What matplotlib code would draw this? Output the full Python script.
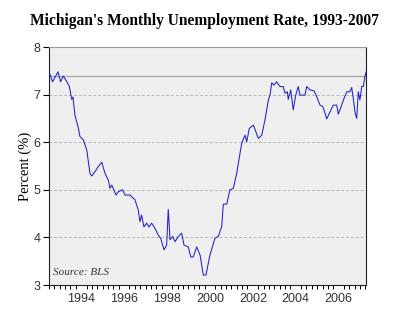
import matplotlib
matplotlib.use("Agg")
import matplotlib.pyplot as plt
import numpy as np

# month index from Jan 1993 (0) and unemployment rate (%)
months = [0, 2, 5, 6.5, 8, 10, 11.4, 12.7, 13.4, 14.5, 16.4, 17.3, 19.2, 21.1, 22.9, 23.9,
          25.7, 27.6, 29.5, 31.3, 33.2, 34.1, 35.1, 37.5, 38.8, 41.2, 42.5, 45.3, 48.1, 49.9,
          50.9, 51.8, 53.1, 54.6, 55.9, 57.4, 59.3, 61.1, 62.5, 64.3, 65.8, 66.7, 67.7, 69.2,
          70.5, 72.3, 74.2, 75.5, 77.9, 79.3, 80.7, 82.6, 84.5, 86.3, 87.8, 90.0, 92.8, 94.7,
          96.6, 97.5, 99.4, 101.2, 103.1, 105.0, 105.9, 107.8, 109.6, 110.6, 112.0, 114.3,
          115.2, 117.1, 119.0, 120.8, 122.7, 123.6, 124.6, 125.8, 127.3, 129.2, 131.0, 132.0,
          133.3, 133.8, 135.2, 136.6, 138.0, 139.4, 140.4, 143.2, 144.1, 146.0, 148.2, 149.7,
          151.6, 153.1, 154.4, 155.3, 157.2, 159.0, 160.9, 161.8, 163.7, 165.0, 166.5, 168.3,
          169.3, 170.2, 171.1, 172.1, 173.0, 173.9, 174.9, 175.8, 176.7, 177.3]
rate = [7.48, 7.27, 7.48, 7.27, 7.39, 7.27, 7.17, 6.90, 6.95, 6.57, 6.30, 6.12, 6.05, 5.84, 5.35, 5.29,
        5.38, 5.49, 5.58, 5.35, 5.20, 5.03, 5.10, 4.89, 4.96, 5.00, 4.89, 4.89, 4.79, 4.58,
        4.33, 4.47, 4.22, 4.30, 4.22, 4.30, 4.19, 4.05, 3.98, 3.74, 3.84, 4.59, 3.95, 4.02,
        3.91, 4.02, 4.09, 3.84, 3.80, 3.59, 3.59, 3.80, 3.63, 3.21, 3.21, 3.63, 3.98, 4.02,
        4.23, 4.70, 4.70, 5.00, 5.03, 5.35, 5.56, 5.98, 6.15, 6.01, 6.29, 6.36,
        6.27, 6.08, 6.15, 6.47, 6.89, 6.99, 7.25, 7.20, 7.27, 7.17, 7.17, 7.03,
        7.06, 6.90, 7.10, 6.68, 6.99, 7.17, 6.99, 6.99, 7.17, 7.10, 7.08, 6.96,
        6.78, 6.75, 6.61, 6.49, 6.64, 6.78, 6.78, 6.59, 6.78, 6.92, 7.06, 7.06,
        7.15, 6.92, 6.64, 6.50, 7.06, 6.89, 7.17, 7.17, 7.38, 7.47]
ref_level = 7.4
label_years = [1994, 1996, 1998, 2000, 2002, 2004, 2006]
yticks = [3, 4, 5, 6, 7, 8]

x = 1993 + np.array(months) / 12.0

fig = plt.figure(figsize=(4.0, 3.29), dpi=100)
ax = fig.add_axes([0.1225, 0.1337, 0.7925, 0.7233])
ax.set_facecolor("#efefef")

ax.set_xlim(1993.0, 1993 + 177.3 / 12)
ax.set_ylim(3, 8)

for v in [4, 5, 6, 7]:
    ax.axhline(v, color="#b8b8b8", lw=0.7, ls=(0, (3, 2)), zorder=1)
ax.axhline(ref_level, color="#a8a8a8", lw=1.0, zorder=1)

ax.plot(x, rate, color="#2020d0", lw=0.75, zorder=3)

ax.set_yticks(yticks)
ax.set_yticklabels([str(v) for v in yticks], fontfamily="Liberation Sans", fontsize=9, color="#333333")
ax.tick_params(axis="y", direction="out", length=4, width=0.8, pad=2)

ax.set_xticks([y + 0.5 for y in label_years])
ax.set_xticklabels([str(y) for y in label_years], fontfamily="Liberation Sans", fontsize=9, color="#333333")
ax.tick_params(axis="x", which="major", length=0, pad=6)
ax.set_xticks(np.arange(1993.0, 2007.8, 0.25), minor=True)
ax.tick_params(axis="x", which="minor", direction="out", length=3, width=0.7)

for s in ["left", "bottom", "right"]:
    ax.spines[s].set_color("#222222")
    ax.spines[s].set_linewidth(0.8)
ax.spines["top"].set_color("#999999")
ax.spines["top"].set_linewidth(0.8)

ax.set_ylabel("Percent (%)", family="Liberation Serif", fontsize=10.5, labelpad=1)

fig.text(0.511, 0.937, "Michigan's Monthly Unemployment Rate, 1993-2007",
         ha="center", va="center", family="Liberation Serif", fontweight="bold", fontsize=11.2)

ax.text(0.012, 0.035, "Source: BLS", transform=ax.transAxes, family="Liberation Serif",
        style="italic", fontsize=8, color="#333333", ha="left", va="bottom")

fig.savefig("out.png", dpi=100)
